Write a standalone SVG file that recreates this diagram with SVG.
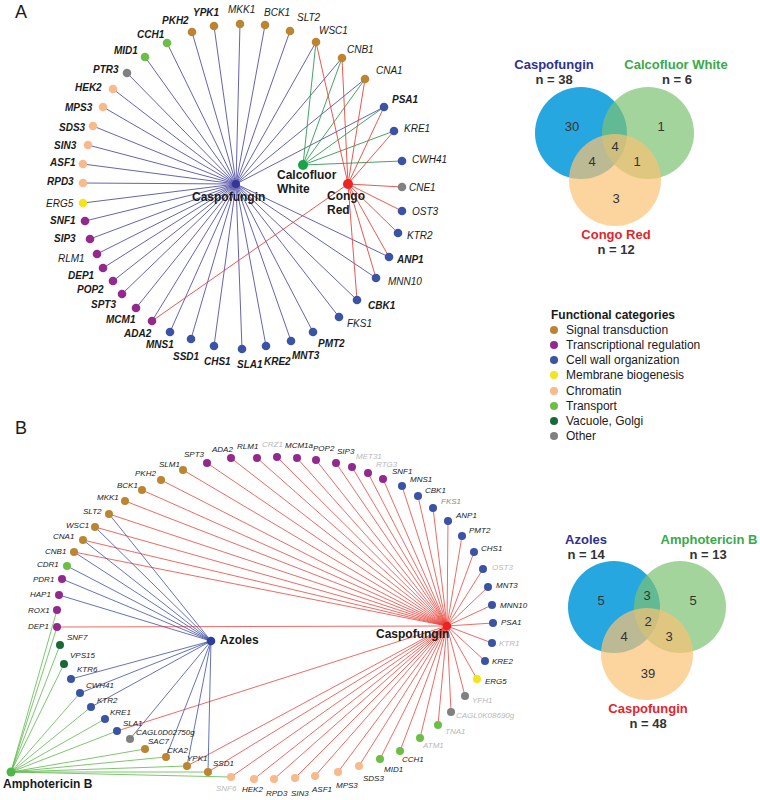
<svg xmlns="http://www.w3.org/2000/svg" width="760" height="800" viewBox="0 0 760 800">
<style>
text{font-family:"Liberation Sans",Arial,sans-serif}
.l{font-style:italic;fill:#1a1a1a}
.la{font-size:10px}
.lb{font-size:8px}
.b{font-weight:bold}
.g{fill:#b8b8b8}
.m{fill:#8a8a8a}
.hub{font-weight:bold;font-size:12px;fill:#1a1a1a}
.pl{font-size:18px;fill:#1a1a1a}
.vt{font-weight:bold;font-size:13px;text-anchor:middle}
.vn{font-weight:bold;font-size:13px;text-anchor:middle;fill:#333}
.vc{font-size:13px;text-anchor:middle;fill:#333}
.lg{font-size:12px;fill:#1a1a1a}
.st{fill:#BC8531}.tr{fill:#93298F}.cw{fill:#3A53A4}.mb{fill:#F3E51C}.ch{fill:#F9B98B}.tp{fill:#6CBE45}.vg{fill:#17693A}.ot{fill:#808080}
.eb line{stroke:#5252a8;stroke-width:0.9}
.eg line{stroke:#2f9a52;stroke-width:0.9}
.er line{stroke:#e8453c;stroke-width:0.9}
.fb line{stroke:#3f4fa3;stroke-width:0.8}
.fg line{stroke:#5cb84a;stroke-width:0.8}
.fr line{stroke:#e8453c;stroke-width:0.8}
</style>
<rect width="760" height="800" fill="#fff"/>
<text class="pl" x="15" y="18">A</text>
<text class="pl" x="15" y="434">B</text>

<g id="connectors">
<g class="eb">
<line x1="236" y1="184" x2="192" y2="32"/><line x1="236" y1="184" x2="214" y2="26"/><line x1="236" y1="184" x2="240" y2="24"/><line x1="236" y1="184" x2="265" y2="25"/><line x1="236" y1="184" x2="290" y2="31"/><line x1="236" y1="184" x2="316" y2="42"/><line x1="236" y1="184" x2="342" y2="58"/><line x1="236" y1="184" x2="365" y2="79"/><line x1="236" y1="184" x2="384" y2="107"/><line x1="236" y1="184" x2="389" y2="257"/><line x1="236" y1="184" x2="376" y2="278"/><line x1="236" y1="184" x2="357" y2="300"/><line x1="236" y1="184" x2="339" y2="317"/><line x1="236" y1="184" x2="313" y2="332"/><line x1="236" y1="184" x2="291" y2="341"/><line x1="236" y1="184" x2="266" y2="346"/><line x1="236" y1="184" x2="242" y2="349"/><line x1="236" y1="184" x2="214" y2="346"/><line x1="236" y1="184" x2="191" y2="339"/><line x1="236" y1="184" x2="170" y2="332"/><line x1="236" y1="184" x2="152" y2="321"/><line x1="236" y1="184" x2="136" y2="308"/><line x1="236" y1="184" x2="122" y2="294"/><line x1="236" y1="184" x2="113" y2="281"/><line x1="236" y1="184" x2="103" y2="268"/><line x1="236" y1="184" x2="97" y2="254"/><line x1="236" y1="184" x2="90" y2="239"/><line x1="236" y1="184" x2="85" y2="221"/><line x1="236" y1="184" x2="83" y2="203"/><line x1="236" y1="184" x2="83" y2="183"/><line x1="236" y1="184" x2="83" y2="164"/><line x1="236" y1="184" x2="88" y2="145"/><line x1="236" y1="184" x2="93" y2="126"/><line x1="236" y1="184" x2="103" y2="107"/><line x1="236" y1="184" x2="113" y2="89"/><line x1="236" y1="184" x2="127" y2="73"/><line x1="236" y1="184" x2="145" y2="57"/><line x1="236" y1="184" x2="167" y2="43"/>
</g>
<g class="eg">
<line x1="303" y1="165" x2="316" y2="42"/><line x1="303" y1="165" x2="342" y2="58"/><line x1="303" y1="165" x2="365" y2="79"/><line x1="303" y1="165" x2="384" y2="107"/><line x1="303" y1="165" x2="394" y2="131"/><line x1="303" y1="165" x2="402" y2="161"/>
</g>
<g class="er">
<line x1="348" y1="184" x2="316" y2="42"/><line x1="348" y1="184" x2="342" y2="58"/><line x1="348" y1="184" x2="365" y2="79"/><line x1="348" y1="184" x2="384" y2="107"/><line x1="348" y1="184" x2="394" y2="131"/><line x1="348" y1="184" x2="402" y2="187"/><line x1="348" y1="184" x2="402" y2="211"/><line x1="348" y1="184" x2="398" y2="233"/><line x1="348" y1="184" x2="389" y2="257"/><line x1="348" y1="184" x2="376" y2="278"/><line x1="348" y1="184" x2="357" y2="300"/><line x1="348" y1="184" x2="152" y2="321"/>
</g>
<g class="fr">
<line x1="447" y1="626" x2="207" y2="463"/><line x1="447" y1="626" x2="231" y2="458"/><line x1="447" y1="626" x2="257" y2="458"/><line x1="447" y1="626" x2="277" y2="457"/><line x1="447" y1="626" x2="297" y2="458"/><line x1="447" y1="626" x2="316" y2="460"/><line x1="447" y1="626" x2="336" y2="463"/><line x1="447" y1="626" x2="352" y2="467"/><line x1="447" y1="626" x2="368" y2="473"/><line x1="447" y1="626" x2="383" y2="479"/><line x1="447" y1="626" x2="183" y2="470"/><line x1="447" y1="626" x2="161" y2="480"/><line x1="447" y1="626" x2="142" y2="490"/><line x1="447" y1="626" x2="125" y2="501"/><line x1="447" y1="626" x2="109" y2="514"/><line x1="447" y1="626" x2="95" y2="527"/><line x1="447" y1="626" x2="83" y2="540"/><line x1="447" y1="626" x2="74" y2="552"/><line x1="447" y1="626" x2="57" y2="627"/><line x1="447" y1="626" x2="117" y2="731"/><line x1="447" y1="626" x2="187" y2="766"/><line x1="447" y1="626" x2="208" y2="772"/><line x1="447" y1="626" x2="231" y2="777"/><line x1="447" y1="626" x2="254" y2="779"/><line x1="447" y1="626" x2="274" y2="779"/><line x1="447" y1="626" x2="295" y2="778"/><line x1="447" y1="626" x2="315" y2="776"/><line x1="447" y1="626" x2="338" y2="772"/><line x1="447" y1="626" x2="359" y2="766"/><line x1="447" y1="626" x2="380" y2="759"/><line x1="447" y1="626" x2="400" y2="751"/><line x1="447" y1="626" x2="420" y2="738"/><line x1="447" y1="626" x2="438" y2="725"/><line x1="447" y1="626" x2="451" y2="712"/><line x1="447" y1="626" x2="465" y2="696"/><line x1="447" y1="626" x2="477" y2="679"/><line x1="447" y1="626" x2="485" y2="661"/><line x1="447" y1="626" x2="492" y2="643"/><line x1="447" y1="626" x2="493" y2="623"/><line x1="447" y1="626" x2="492" y2="605"/><line x1="447" y1="626" x2="488" y2="587"/><line x1="447" y1="626" x2="483" y2="569"/><line x1="447" y1="626" x2="474" y2="552"/><line x1="447" y1="626" x2="462" y2="536"/><line x1="447" y1="626" x2="448" y2="521"/><line x1="447" y1="626" x2="433" y2="508"/><line x1="447" y1="626" x2="418" y2="496"/><line x1="447" y1="626" x2="402" y2="486"/>
</g>
<g class="fb">
<line x1="211" y1="641" x2="109" y2="514"/><line x1="211" y1="641" x2="95" y2="527"/><line x1="211" y1="641" x2="83" y2="540"/><line x1="211" y1="641" x2="74" y2="552"/><line x1="211" y1="641" x2="67" y2="566"/><line x1="211" y1="641" x2="62" y2="579"/><line x1="211" y1="641" x2="59" y2="595"/><line x1="211" y1="641" x2="71" y2="679"/><line x1="211" y1="641" x2="80" y2="693"/><line x1="211" y1="641" x2="91" y2="707"/><line x1="211" y1="641" x2="130" y2="739"/><line x1="211" y1="641" x2="166" y2="757"/><line x1="211" y1="641" x2="187" y2="766"/><line x1="211" y1="641" x2="208" y2="772"/>
</g>
<g class="fg">
<line x1="11" y1="772" x2="57" y2="627"/><line x1="11" y1="772" x2="57" y2="610"/><line x1="11" y1="772" x2="60" y2="645"/><line x1="11" y1="772" x2="64" y2="664"/><line x1="11" y1="772" x2="80" y2="693"/><line x1="11" y1="772" x2="91" y2="707"/><line x1="11" y1="772" x2="105" y2="719"/><line x1="11" y1="772" x2="117" y2="731"/><line x1="11" y1="772" x2="145" y2="749"/><line x1="11" y1="772" x2="166" y2="757"/><line x1="11" y1="772" x2="187" y2="766"/><line x1="11" y1="772" x2="208" y2="772"/><line x1="11" y1="772" x2="231" y2="777"/>
</g>
</g>

<g id="nodes-A">
<g id="a-caspofungin"><circle cx="236" cy="184" r="4" fill="#34349a"/><text class="hub" x="192" y="201">Caspofungin</text></g>
<g id="a-calcofluor"><circle cx="303" cy="165" r="5" fill="#1aa44a"/><text class="hub" x="277" y="179">Calcofluor</text><text class="hub" x="277" y="193">White</text></g>
<g id="a-congored"><circle cx="348" cy="184" r="5" fill="#ee2323"/><text class="hub" x="327" y="200">Congo</text><text class="hub" x="327" y="214">Red</text></g>
<g id="a-PKH2"><circle class="st" cx="192" cy="32" r="4.3"/><text class="l la b" x="162" y="24">PKH2</text></g>
<g id="a-YPK1"><circle class="st" cx="214" cy="26" r="4.3"/><text class="l la b" x="193" y="16">YPK1</text></g>
<g id="a-MKK1"><circle class="st" cx="240" cy="24" r="4.3"/><text class="l la" x="228" y="13">MKK1</text></g>
<g id="a-BCK1"><circle class="st" cx="265" cy="25" r="4.3"/><text class="l la" x="264" y="16">BCK1</text></g>
<g id="a-SLT2"><circle class="st" cx="290" cy="31" r="4.3"/><text class="l la" x="297" y="21">SLT2</text></g>
<g id="a-WSC1"><circle class="st" cx="316" cy="42" r="4.3"/><text class="l la" x="319" y="34">WSC1</text></g>
<g id="a-CNB1"><circle class="st" cx="342" cy="58" r="4.3"/><text class="l la" x="347" y="53">CNB1</text></g>
<g id="a-CNA1"><circle class="st" cx="365" cy="79" r="4.3"/><text class="l la" x="376" y="74">CNA1</text></g>
<g id="a-PSA1"><circle class="cw" cx="384" cy="107" r="4.3"/><text class="l la b" x="392" y="103">PSA1</text></g>
<g id="a-KRE1"><circle class="cw" cx="394" cy="131" r="4.3"/><text class="l la" x="404" y="132">KRE1</text></g>
<g id="a-CWH41"><circle class="cw" cx="402" cy="161" r="4.3"/><text class="l la" x="412" y="163">CWH41</text></g>
<g id="a-CNE1"><circle class="ot" cx="402" cy="187" r="4.3"/><text class="l la" x="409" y="191">CNE1</text></g>
<g id="a-OST3"><circle class="cw" cx="402" cy="211" r="4.3"/><text class="l la" x="412" y="215">OST3</text></g>
<g id="a-KTR2"><circle class="cw" cx="398" cy="233" r="4.3"/><text class="l la" x="407" y="239">KTR2</text></g>
<g id="a-ANP1"><circle class="cw" cx="389" cy="257" r="4.3"/><text class="l la b" x="397" y="263">ANP1</text></g>
<g id="a-MNN10"><circle class="cw" cx="376" cy="278" r="4.3"/><text class="l la" x="388" y="285">MNN10</text></g>
<g id="a-CBK1"><circle class="cw" cx="357" cy="300" r="4.3"/><text class="l la b" x="368" y="309">CBK1</text></g>
<g id="a-FKS1"><circle class="cw" cx="339" cy="317" r="4.3"/><text class="l la" x="347" y="327">FKS1</text></g>
<g id="a-PMT2"><circle class="cw" cx="313" cy="332" r="4.3"/><text class="l la b" x="318" y="347">PMT2</text></g>
<g id="a-MNT3"><circle class="cw" cx="291" cy="341" r="4.3"/><text class="l la b" x="292" y="359">MNT3</text></g>
<g id="a-KRE2"><circle class="cw" cx="266" cy="346" r="4.3"/><text class="l la b" x="264" y="365">KRE2</text></g>
<g id="a-SLA1"><circle class="cw" cx="242" cy="349" r="4.3"/><text class="l la b" x="237" y="368">SLA1</text></g>
<g id="a-CHS1"><circle class="cw" cx="214" cy="346" r="4.3"/><text class="l la b" x="204" y="365">CHS1</text></g>
<g id="a-SSD1"><circle class="cw" cx="191" cy="339" r="4.3"/><text class="l la b" x="173" y="360">SSD1</text></g>
<g id="a-MNS1"><circle class="cw" cx="170" cy="332" r="4.3"/><text class="l la b" x="146" y="348">MNS1</text></g>
<g id="a-ADA2"><circle class="tr" cx="152" cy="321" r="4.3"/><text class="l la b" x="124" y="337">ADA2</text></g>
<g id="a-MCM1"><circle class="tr" cx="136" cy="308" r="4.3"/><text class="l la b" x="106" y="323">MCM1</text></g>
<g id="a-SPT3"><circle class="tr" cx="122" cy="294" r="4.3"/><text class="l la b" x="91" y="308">SPT3</text></g>
<g id="a-POP2"><circle class="tr" cx="113" cy="281" r="4.3"/><text class="l la b" x="77" y="293">POP2</text></g>
<g id="a-DEP1"><circle class="tr" cx="103" cy="268" r="4.3"/><text class="l la b" x="68" y="279">DEP1</text></g>
<g id="a-RLM1"><circle class="tr" cx="97" cy="254" r="4.3"/><text class="l la" x="58" y="262">RLM1</text></g>
<g id="a-SIP3"><circle class="tr" cx="90" cy="239" r="4.3"/><text class="l la b" x="54" y="242">SIP3</text></g>
<g id="a-SNF1"><circle class="tr" cx="85" cy="221" r="4.3"/><text class="l la b" x="50" y="224">SNF1</text></g>
<g id="a-ERG5"><circle class="mb" cx="83" cy="203" r="4.3"/><text class="l la" x="46" y="207">ERG5</text></g>
<g id="a-RPD3"><circle class="ch" cx="83" cy="183" r="4.3"/><text class="l la b" x="47" y="185">RPD3</text></g>
<g id="a-ASF1"><circle class="ch" cx="83" cy="164" r="4.3"/><text class="l la b" x="50" y="166">ASF1</text></g>
<g id="a-SIN3"><circle class="ch" cx="88" cy="145" r="4.3"/><text class="l la b" x="54" y="149">SIN3</text></g>
<g id="a-SDS3"><circle class="ch" cx="93" cy="126" r="4.3"/><text class="l la b" x="59" y="131">SDS3</text></g>
<g id="a-MPS3"><circle class="ch" cx="103" cy="107" r="4.3"/><text class="l la b" x="65" y="111">MPS3</text></g>
<g id="a-HEK2"><circle class="ch" cx="113" cy="89" r="4.3"/><text class="l la b" x="75" y="91">HEK2</text></g>
<g id="a-PTR3"><circle class="ot" cx="127" cy="73" r="4.3"/><text class="l la b" x="93" y="73">PTR3</text></g>
<g id="a-MID1"><circle class="tp" cx="145" cy="57" r="4.3"/><text class="l la b" x="114" y="54">MID1</text></g>
<g id="a-CCH1"><circle class="tp" cx="167" cy="43" r="4.3"/><text class="l la b" x="137" y="38">CCH1</text></g>
</g>

<g id="venn-A">
<circle cx="581" cy="133" r="46" fill="#27A7E0"/>
<circle cx="648" cy="133" r="46" fill="#7AC272" fill-opacity="0.7"/>
<circle cx="615" cy="180" r="46" fill="#FBC274" fill-opacity="0.7"/>
<text class="vt" x="554" y="69" fill="#2E3192">Caspofungin</text>
<text class="vn" x="554" y="84">n = 38</text>
<text class="vt" x="676" y="69" fill="#39A94A">Calcofluor White</text>
<text class="vn" x="677" y="84">n = 6</text>
<text class="vt" x="616" y="239" fill="#E0262C">Congo Red</text>
<text class="vn" x="616" y="254">n = 12</text>
<text class="vc" x="572" y="131">30</text>
<text class="vc" x="661" y="131">1</text>
<text class="vc" x="615" y="151">4</text>
<text class="vc" x="592" y="166">4</text>
<text class="vc" x="637" y="166">1</text>
<text class="vc" x="616" y="203">3</text>
</g>

<g id="legend">
<text class="lg" x="551" y="319" font-weight="bold">Functional categories</text>
<circle class="st" cx="554" cy="330" r="4"/><text class="lg" x="566" y="334">Signal transduction</text>
<circle class="tr" cx="554" cy="345" r="4"/><text class="lg" x="566" y="349">Transcriptional regulation</text>
<circle class="cw" cx="554" cy="360" r="4"/><text class="lg" x="566" y="364">Cell wall organization</text>
<circle class="mb" cx="554" cy="375" r="4"/><text class="lg" x="566" y="379">Membrane biogenesis</text>
<circle class="ch" cx="554" cy="391" r="4"/><text class="lg" x="566" y="395">Chromatin</text>
<circle class="tp" cx="554" cy="406" r="4"/><text class="lg" x="566" y="410">Transport</text>
<circle class="vg" cx="554" cy="421" r="4"/><text class="lg" x="566" y="425">Vacuole, Golgi</text>
<circle class="ot" cx="554" cy="436" r="4"/><text class="lg" x="566" y="440">Other</text>
</g>

<g id="nodes-B">
<g id="b-azoles"><circle cx="211" cy="641" r="4.3" fill="#2E3E9C"/><text class="hub" x="220" y="644">Azoles</text></g>
<g id="b-amphotericin"><circle cx="11" cy="772" r="4.5" fill="#4DB848"/><text class="hub" x="3" y="788">Amphotericin B</text></g>
<g id="b-caspofungin"><circle cx="447" cy="626" r="4.3" fill="#EE2020"/><text class="hub" x="376" y="638">Caspofungin</text></g>
<g id="b-SPT3"><circle class="tr" cx="207" cy="463" r="4"/><text class="l lb" x="184" y="457">SPT3</text></g>
<g id="b-ADA2"><circle class="tr" cx="231" cy="458" r="4"/><text class="l lb" x="212" y="452">ADA2</text></g>
<g id="b-RLM1"><circle class="tr" cx="257" cy="458" r="4"/><text class="l lb" x="237" y="449">RLM1</text></g>
<g id="b-CRZ1"><circle class="tr" cx="277" cy="457" r="4"/><text class="l lb g" x="262" y="447">CRZ1</text></g>
<g id="b-MCM1a"><circle class="tr" cx="297" cy="458" r="4"/><text class="l lb" x="285" y="448">MCM1a</text></g>
<g id="b-POP2"><circle class="tr" cx="316" cy="460" r="4"/><text class="l lb" x="313" y="451">POP2</text></g>
<g id="b-SIP3"><circle class="tr" cx="336" cy="463" r="4"/><text class="l lb" x="337" y="454">SIP3</text></g>
<g id="b-MET31"><circle class="tr" cx="352" cy="467" r="4"/><text class="l lb g" x="356" y="459">MET31</text></g>
<g id="b-RTG3"><circle class="tr" cx="368" cy="473" r="4"/><text class="l lb g" x="376" y="467">RTG3</text></g>
<g id="b-SNF1"><circle class="tr" cx="383" cy="479" r="4"/><text class="l lb" x="392" y="474">SNF1</text></g>
<g id="b-MNS1"><circle class="cw" cx="402" cy="486" r="4"/><text class="l lb" x="410" y="482">MNS1</text></g>
<g id="b-CBK1"><circle class="cw" cx="418" cy="496" r="4"/><text class="l lb" x="425" y="493">CBK1</text></g>
<g id="b-FKS1"><circle class="cw" cx="433" cy="508" r="4"/><text class="l lb m" x="441" y="504">FKS1</text></g>
<g id="b-ANP1"><circle class="cw" cx="448" cy="521" r="4"/><text class="l lb" x="456" y="518">ANP1</text></g>
<g id="b-PMT2"><circle class="cw" cx="462" cy="536" r="4"/><text class="l lb" x="469" y="533">PMT2</text></g>
<g id="b-CHS1"><circle class="cw" cx="474" cy="552" r="4"/><text class="l lb" x="481" y="551">CHS1</text></g>
<g id="b-OST3"><circle class="cw" cx="483" cy="569" r="4"/><text class="l lb g" x="492" y="570">OST3</text></g>
<g id="b-MNT3"><circle class="cw" cx="488" cy="587" r="4"/><text class="l lb" x="496" y="588">MNT3</text></g>
<g id="b-MNN10"><circle class="cw" cx="492" cy="605" r="4"/><text class="l lb" x="500" y="608">MNN10</text></g>
<g id="b-PSA1"><circle class="cw" cx="493" cy="623" r="4"/><text class="l lb" x="501" y="625">PSA1</text></g>
<g id="b-KTR1"><circle class="cw" cx="492" cy="643" r="4"/><text class="l lb g" x="499" y="646">KTR1</text></g>
<g id="b-KRE2"><circle class="cw" cx="485" cy="661" r="4"/><text class="l lb" x="492" y="664">KRE2</text></g>
<g id="b-ERG5"><circle class="mb" cx="477" cy="679" r="4"/><text class="l lb" x="485" y="684">ERG5</text></g>
<g id="b-YFH1"><circle class="ot" cx="465" cy="696" r="4"/><text class="l lb g" x="472" y="703">YFH1</text></g>
<g id="b-CAGL0K08690g"><circle class="ot" cx="451" cy="712" r="4"/><text class="l lb g" x="456" y="718">CAGL0K08690g</text></g>
<g id="b-TNA1"><circle class="tp" cx="438" cy="725" r="4"/><text class="l lb g" x="445" y="734">TNA1</text></g>
<g id="b-ATM1"><circle class="tp" cx="420" cy="738" r="4"/><text class="l lb g" x="423" y="748">ATM1</text></g>
<g id="b-CCH1"><circle class="tp" cx="400" cy="751" r="4"/><text class="l lb" x="402" y="762">CCH1</text></g>
<g id="b-MID1"><circle class="tp" cx="380" cy="759" r="4"/><text class="l lb" x="384" y="772">MID1</text></g>
<g id="b-SDS3"><circle class="ch" cx="359" cy="766" r="4"/><text class="l lb" x="363" y="781">SDS3</text></g>
<g id="b-MPS3"><circle class="ch" cx="338" cy="772" r="4"/><text class="l lb" x="336" y="788">MPS3</text></g>
<g id="b-ASF1"><circle class="ch" cx="315" cy="776" r="4"/><text class="l lb" x="312" y="792">ASF1</text></g>
<g id="b-SIN3"><circle class="ch" cx="295" cy="778" r="4"/><text class="l lb" x="291" y="796">SIN3</text></g>
<g id="b-RPD3"><circle class="ch" cx="274" cy="779" r="4"/><text class="l lb" x="266" y="796">RPD3</text></g>
<g id="b-HEK2"><circle class="ch" cx="254" cy="779" r="4"/><text class="l lb" x="242" y="792">HEK2</text></g>
<g id="b-SNF6"><circle class="ch" cx="231" cy="777" r="4"/><text class="l lb g" x="216" y="791">SNF6</text></g>
<g id="b-SSD1"><circle class="st" cx="208" cy="772" r="4"/><text class="l lb" x="213" y="766">SSD1</text></g>
<g id="b-YPK1"><circle class="st" cx="187" cy="766" r="4"/><text class="l lb" x="187" y="761">YPK1</text></g>
<g id="b-CKA2"><circle class="st" cx="166" cy="757" r="4"/><text class="l lb" x="167" y="753">CKA2</text></g>
<g id="b-SAC7"><circle class="st" cx="145" cy="749" r="4"/><text class="l lb" x="148" y="744">SAC7</text></g>
<g id="b-CAGL0D02750g"><circle class="ot" cx="130" cy="739" r="4"/><text class="l lb" x="136" y="735">CAGL0D02750g</text></g>
<g id="b-SLA1"><circle class="cw" cx="117" cy="731" r="4"/><text class="l lb" x="123" y="726">SLA1</text></g>
<g id="b-KRE1"><circle class="cw" cx="105" cy="719" r="4"/><text class="l lb" x="110" y="715">KRE1</text></g>
<g id="b-KTR2"><circle class="cw" cx="91" cy="707" r="4"/><text class="l lb" x="97" y="703">KTR2</text></g>
<g id="b-CWH41"><circle class="cw" cx="80" cy="693" r="4"/><text class="l lb" x="86" y="688">CWH41</text></g>
<g id="b-KTR6"><circle class="cw" cx="71" cy="679" r="4"/><text class="l lb" x="77" y="672">KTR6</text></g>
<g id="b-VPS15"><circle class="vg" cx="64" cy="664" r="4"/><text class="l lb" x="70" y="658">VPS15</text></g>
<g id="b-SNF7"><circle class="vg" cx="60" cy="645" r="4"/><text class="l lb" x="67" y="640">SNF7</text></g>
<g id="b-DEP1"><circle class="tr" cx="57" cy="627" r="4"/><text class="l lb" x="28" y="629">DEP1</text></g>
<g id="b-ROX1"><circle class="tr" cx="57" cy="610" r="4"/><text class="l lb" x="28" y="613">ROX1</text></g>
<g id="b-HAP1"><circle class="tr" cx="59" cy="595" r="4"/><text class="l lb" x="30" y="597">HAP1</text></g>
<g id="b-PDR1"><circle class="tr" cx="62" cy="579" r="4"/><text class="l lb" x="33" y="582">PDR1</text></g>
<g id="b-CDR1"><circle class="tp" cx="67" cy="566" r="4"/><text class="l lb" x="37" y="567">CDR1</text></g>
<g id="b-CNB1"><circle class="st" cx="74" cy="552" r="4"/><text class="l lb" x="45" y="554">CNB1</text></g>
<g id="b-CNA1"><circle class="st" cx="83" cy="540" r="4"/><text class="l lb" x="53" y="539">CNA1</text></g>
<g id="b-WSC1"><circle class="st" cx="95" cy="527" r="4"/><text class="l lb" x="66" y="528">WSC1</text></g>
<g id="b-SLT2"><circle class="st" cx="109" cy="514" r="4"/><text class="l lb" x="83" y="514">SLT2</text></g>
<g id="b-MKK1"><circle class="st" cx="125" cy="501" r="4"/><text class="l lb" x="97" y="500">MKK1</text></g>
<g id="b-BCK1"><circle class="st" cx="142" cy="490" r="4"/><text class="l lb" x="117" y="488">BCK1</text></g>
<g id="b-PKH2"><circle class="st" cx="161" cy="480" r="4"/><text class="l lb" x="135" y="476">PKH2</text></g>
<g id="b-SLM1"><circle class="st" cx="183" cy="470" r="4"/><text class="l lb" x="159" y="467">SLM1</text></g>
</g>

<g id="venn-B">
<circle cx="614" cy="607" r="46" fill="#27A7E0"/>
<circle cx="680" cy="607" r="46" fill="#7AC272" fill-opacity="0.7"/>
<circle cx="647" cy="654" r="46" fill="#FBC274" fill-opacity="0.7"/>
<text class="vt" x="586" y="544" fill="#2E3192">Azoles</text>
<text class="vn" x="586" y="559">n = 14</text>
<text class="vt" x="709" y="544" fill="#39A94A">Amphotericin B</text>
<text class="vn" x="708" y="559">n = 13</text>
<text class="vt" x="648" y="713" fill="#E0262C">Caspofungin</text>
<text class="vn" x="648" y="728">n = 48</text>
<text class="vc" x="601" y="605">5</text>
<text class="vc" x="647" y="600">3</text>
<text class="vc" x="693" y="605">5</text>
<text class="vc" x="648" y="626">2</text>
<text class="vc" x="624" y="641">4</text>
<text class="vc" x="669" y="641">3</text>
<text class="vc" x="648" y="678">39</text>
</g>
</svg>
